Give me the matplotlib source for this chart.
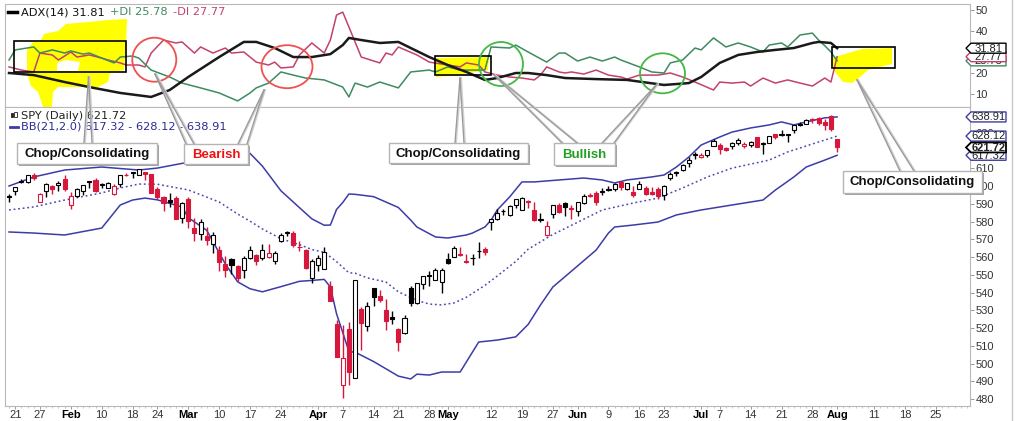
import numpy as np
import pandas as pd
import matplotlib
matplotlib.use("Agg")
import matplotlib.pyplot as plt
import matplotlib.patches as mpatches
import matplotlib.transforms as mtransforms
from matplotlib.lines import Line2D

W, H = 1016, 421
plt.rcParams['font.family'] = ['Liberation Sans', 'DejaVu Sans']

# trading calendar
holidays = ["2025-01-20", "2025-02-17", "2025-04-18", "2025-05-26", "2025-06-19",
            "2025-07-04", "2025-09-01"]
days = pd.bdate_range("2025-01-17", "2025-09-05")
days = days[~days.isin(pd.to_datetime(holidays))]

# SPY daily candles, 2025-01-17 .. 2025-08-01 (dividend adjusted)
opens = [594.30, 597.07, 602.32, 602.20, 606.21, 591.21, 597.02, 600.12, 600.36, 603.90,
         589.07, 594.23, 597.04, 602.39, 603.29, 600.43, 598.95, 595.60, 600.88, 606.34,
         607.28, 606.48, 607.94, 606.56, 598.42, 593.55, 592.33, 593.25, 582.06, 592.58,
         576.21, 573.19, 571.98, 567.50, 564.19, 556.00, 558.77, 555.09, 552.71, 559.39,
         561.40, 559.43, 559.93, 557.58, 569.10, 573.60, 573.49, 565.48, 563.83, 548.23,
         555.75, 553.35, 543.51, 522.07, 487.69, 519.54, 491.94, 530.57, 521.41, 542.45,
         538.07, 530.08, 526.04, 519.56, 517.37, 542.44, 534.36, 545.05, 549.79, 547.31,
         545.97, 558.67, 560.17, 561.26, 557.51, 559.32, 563.53, 564.79, 579.67, 581.61,
         586.01, 583.76, 589.45, 586.30, 591.29, 586.64, 580.86, 572.53, 584.42, 589.50,
         590.38, 587.13, 585.96, 590.54, 595.16, 595.83, 596.86, 598.41, 598.43, 602.34,
         598.21, 596.70, 598.51, 598.87, 596.57, 598.38, 595.04, 604.33, 607.91, 608.99,
         612.88, 617.38, 616.36, 617.24, 622.45, 623.36, 621.35, 622.77, 624.20, 622.74,
         623.16, 627.52, 623.74, 624.40, 629.30, 628.77, 629.10, 631.55, 634.60, 635.09,
         637.48, 638.35, 635.91, 639.46, 626.30]
highs = [595.50, 599.46, 604.22, 606.15, 607.18, 596.09, 601.77, 600.53, 603.00, 606.36,
         596.69, 598.70, 600.77, 602.85, 604.53, 601.90, 602.26, 600.95, 606.34, 607.39,
         607.89, 609.63, 608.08, 606.70, 599.39, 594.29, 595.98, 594.42, 591.12, 593.74,
         581.89, 581.38, 576.67, 573.99, 566.14, 560.62, 559.71, 555.71, 560.43, 566.31,
         561.62, 567.55, 567.17, 563.19, 573.45, 574.71, 574.63, 569.20, 564.57, 559.01,
         561.24, 565.72, 546.37, 524.27, 521.57, 523.38, 547.02, 531.90, 534.83, 542.68,
         541.63, 536.29, 529.57, 520.10, 527.29, 543.83, 545.26, 549.45, 551.95, 553.85,
         554.01, 562.44, 566.43, 565.48, 561.46, 561.53, 568.68, 565.83, 581.20, 587.28,
         587.17, 589.17, 592.70, 593.74, 592.25, 590.78, 584.82, 580.02, 589.51, 590.24,
         591.01, 589.33, 590.99, 595.28, 596.15, 597.20, 599.03, 599.95, 601.67, 602.65,
         601.95, 600.05, 602.65, 599.94, 599.42, 599.46, 600.54, 607.85, 608.61, 612.31,
         616.39, 619.22, 618.83, 620.49, 626.28, 624.03, 622.11, 624.72, 626.87, 624.86,
         625.16, 627.86, 624.73, 628.40, 629.47, 631.54, 629.10, 634.21, 636.15, 637.58,
         638.04, 638.67, 637.68, 639.85, 626.34]
lows = [591.00, 595.07, 601.76, 601.92, 603.20, 591.04, 593.65, 595.62, 597.12, 597.31,
        586.89, 593.68, 594.98, 599.03, 596.45, 599.14, 598.83, 594.91, 599.60, 605.47,
        604.78, 605.96, 603.20, 595.87, 592.85, 586.06, 588.26, 581.15, 578.94, 576.40,
        568.85, 569.68, 566.72, 562.23, 552.19, 548.72, 550.29, 546.38, 548.19, 558.95,
        555.66, 558.23, 559.20, 556.33, 568.50, 571.99, 565.49, 563.24, 553.06, 545.27,
        552.08, 553.21, 535.10, 503.56, 480.30, 487.66, 491.56, 507.73, 518.47, 532.26,
        534.90, 518.69, 522.31, 506.96, 516.54, 532.12, 533.63, 542.23, 543.46, 546.95,
        539.92, 556.27, 559.79, 560.61, 556.40, 555.25, 559.70, 560.96, 575.34, 581.04,
        583.74, 583.30, 587.48, 586.30, 587.80, 580.02, 579.61, 571.73, 581.75, 584.96,
        583.26, 581.44, 583.26, 590.05, 593.69, 589.25, 595.06, 597.16, 597.28, 597.72,
        597.72, 593.68, 598.42, 594.96, 594.67, 592.86, 591.89, 603.41, 605.54, 608.37,
        610.83, 615.04, 615.52, 616.61, 622.43, 617.87, 619.52, 620.91, 623.01, 621.53,
        621.80, 622.06, 618.05, 624.18, 626.46, 628.34, 624.57, 629.73, 633.99, 634.67,
        635.54, 634.34, 631.54, 630.77, 619.29]
closes = [593.98, 599.45, 602.84, 606.15, 604.37, 595.77, 600.92, 598.21, 601.44, 598.22,
          594.17, 598.18, 600.62, 602.72, 597.17, 601.25, 601.71, 599.76, 606.13, 606.10,
          607.89, 609.33, 606.78, 596.34, 593.61, 590.64, 590.94, 581.55, 590.58, 580.27,
          573.36, 579.56, 569.31, 572.42, 557.18, 552.52, 555.47, 548.12, 559.41, 563.75,
          557.62, 563.73, 562.09, 562.28, 572.38, 573.76, 566.89, 565.38, 554.06, 557.69,
          559.27, 562.82, 535.10, 503.78, 502.88, 494.98, 547.02, 522.98, 532.34, 537.52,
          536.01, 524.06, 524.81, 512.38, 525.65, 533.82, 545.09, 549.04, 549.25, 552.72,
          552.94, 556.77, 565.06, 561.81, 557.10, 559.45, 563.36, 562.64, 581.19, 585.04,
          585.79, 588.66, 592.40, 593.05, 591.05, 581.06, 581.29, 577.41, 589.35, 585.41,
          588.25, 587.59, 590.91, 594.29, 594.25, 591.25, 597.34, 597.88, 601.28, 599.56,
          601.95, 595.20, 600.88, 595.73, 595.64, 594.28, 600.15, 606.78, 607.12, 611.87,
          614.91, 617.85, 617.65, 620.45, 625.34, 620.68, 620.34, 624.06, 625.82, 623.62,
          624.81, 622.14, 624.22, 628.04, 627.58, 628.77, 628.86, 634.21, 634.42, 637.10,
          636.94, 635.26, 634.46, 632.08, 621.72]
prev_close = 588.12

# Bollinger Bands (21, 2.0) at trading-day positions
bbu_day = [0, 4, 9, 15, 21, 24, 29, 32, 34, 35, 37, 39, 41, 44, 47, 49, 51, 52, 53, 54,
           55, 56, 59, 63, 65, 66, 69, 71, 74, 75, 77, 78, 79, 81, 83, 85, 89, 93, 96, 98,
           100, 104, 106, 108, 110, 112, 115, 117, 120, 123, 125, 127, 129, 132, 134]
bbu_val = [600.0, 605.1, 609.0, 610.7, 609.0, 610.1, 613.4, 616.5, 619.7, 621.7, 622.4, 618.4,
           611.2, 597.3, 587.8, 581.5, 577.9, 578.0, 586.8, 590.7, 595.5, 595.3, 594.0, 587.9,
           580.8, 576.9, 571.3, 570.7, 572.4, 573.5, 576.9, 580.8, 586.5, 593.8, 602.3, 602.3,
           603.4, 604.5, 603.4, 601.7, 603.4, 605.1, 606.2, 610.7, 616.3, 623.1, 627.6, 630.4,
           632.7, 634.4, 636.1, 634.4, 636.1, 638.4, 638.91]
bbm_day = [0, 4, 9, 15, 18, 21, 24, 29, 34, 37, 39, 41, 44, 47, 49, 51, 53, 55, 56, 58,
           61, 63, 66, 68, 70, 72, 74, 77, 79, 82, 84, 88, 90, 96, 101, 105, 109, 113, 117,
           123, 126, 131, 133, 134]
bbm_val = [586.5, 588.2, 592.1, 596.1, 598.9, 601.1, 601.0, 597.8, 591.0, 584.2, 580.2, 575.8,
           570.3, 567.0, 564.2, 562.7, 557.4, 551.1, 550.9, 548.2, 545.9, 540.4, 535.5, 533.5,
           533.0, 534.1, 537.3, 544.0, 549.3, 557.5, 564.4, 572.7, 576.1, 586.5, 590.4, 593.2,
           598.9, 605.1, 610.1, 614.6, 619.2, 624.8, 627.0, 628.12]
bbl_day = [0, 4, 9, 15, 18, 20, 22, 24, 28, 29, 32, 34, 35, 37, 39, 41, 44, 47, 49, 51,
           52, 53, 54, 55, 56, 59, 63, 65, 66, 68, 70, 73, 76, 79, 82, 84, 86, 88, 91, 95,
           97, 98, 101, 105, 108, 112, 117, 122, 124, 127, 129, 132, 134]
bbl_val = [574.1, 573.5, 572.4, 576.3, 589.3, 592.1, 593.2, 592.2, 588.2, 582.2, 575.0, 562.4,
           556.1, 546.0, 542.1, 540.4, 543.3, 546.3, 546.8, 547.4, 543.1, 528.0, 517.5, 506.7,
           506.4, 501.1, 492.9, 491.3, 494.0, 493.5, 495.2, 495.2, 512.1, 513.2, 515.0, 522.0,
           533.0, 543.1, 552.0, 563.9, 573.5, 576.9, 578.0, 579.7, 583.7, 586.5, 589.3, 592.1,
           597.7, 605.1, 610.7, 614.6, 617.32]

# ADX(14), +DI, -DI
adx_day = [0, 4, 9, 13, 18, 23, 26, 29, 34, 38, 40, 43, 46, 49, 52, 54, 55, 57, 60, 63,
           65, 68, 71, 74, 77, 79, 82, 84, 87, 90, 95, 100, 106, 110, 112, 115, 118, 121,
           124, 127, 130, 131, 133, 134]
adx_val = [20.0, 19.0, 15.7, 13.3, 10.5, 8.6, 11.9, 18.1, 27.6, 34.8, 34.8, 31.9, 27.6, 27.6,
           29.0, 33.3, 36.7, 35.7, 34.3, 34.8, 31.9, 27.6, 23.8, 20.5, 16.7, 17.6, 20.0, 20.0,
           19.0, 17.6, 17.1, 16.7, 14.3, 15.2, 18.1, 24.8, 28.6, 30.0, 31.0, 31.9, 34.3, 34.8,
           34.3, 31.81]
pdi_day = [0, 1, 4, 5, 7, 9, 10, 12, 13, 15, 17, 18, 20, 21, 23, 26, 28, 31, 34, 37,
           39, 40, 42, 44, 46, 48, 51, 54, 55, 56, 58, 60, 63, 65, 68, 69, 71, 73, 77, 78,
           81, 82, 84, 87, 89, 90, 92, 94, 96, 98, 99, 102, 104, 106, 107, 109, 111, 112,
           114, 116, 118, 120, 122, 123, 125, 126, 128, 130, 131, 132, 133, 134]
pdi_val = [26.2, 31.0, 32.4, 29.5, 31.0, 29.5, 30.5, 29.0, 29.5, 27.1, 24.8, 27.6, 28.1, 27.1,
           21.4, 18.1, 15.2, 12.9, 10.5, 6.7, 10.5, 12.9, 15.2, 20.5, 19.0, 17.6, 16.7, 13.3,
           8.6, 15.2, 13.3, 15.7, 12.9, 20.5, 21.4, 20.5, 22.9, 21.4, 21.4, 32.4, 31.9, 33.3,
           30.0, 25.2, 29.5, 29.5, 25.7, 27.6, 25.7, 27.6, 26.2, 22.9, 20.5, 20.0, 24.8, 26.2,
           31.9, 31.0, 36.7, 32.4, 34.3, 32.4, 30.0, 33.3, 34.3, 32.4, 38.1, 39.0, 35.7, 33.0,
           30.0, 25.78]
mdi_day = [0, 2, 4, 5, 7, 8, 10, 11, 13, 15, 16, 18, 19, 21, 22, 23, 25, 27, 28, 30,
           31, 33, 35, 36, 38, 40, 42, 43, 44, 46, 47, 49, 51, 52, 53, 54, 55, 57, 60, 61,
           62, 63, 66, 68, 71, 73, 74, 76, 77, 79, 81, 83, 85, 86, 87, 89, 90, 91, 93, 95,
           97, 99, 100, 102, 103, 105, 107, 109, 111, 114, 115, 117, 119, 120, 122, 124, 126,
           128, 130, 132, 133, 134]
mdi_val = [22.9, 21.4, 20.5, 29.5, 28.6, 26.2, 30.0, 27.6, 28.6, 27.1, 26.2, 24.8, 23.8, 23.8,
           22.9, 29.5, 35.7, 34.3, 34.8, 29.5, 32.4, 29.5, 31.9, 29.5, 30.0, 25.2, 23.8, 25.2,
           22.4, 22.9, 28.6, 34.3, 29.5, 35.7, 47.6, 49.0, 41.9, 27.6, 24.8, 29.5, 28.6, 32.4,
           28.6, 25.2, 23.8, 22.9, 24.8, 23.8, 20.5, 19.0, 18.1, 17.6, 16.7, 19.0, 22.9, 20.5,
           20.0, 20.5, 19.5, 21.4, 19.0, 18.1, 17.1, 19.0, 19.0, 19.0, 20.0, 18.1, 15.7, 11.9,
           15.7, 15.2, 15.7, 13.8, 17.6, 15.2, 16.7, 15.2, 13.8, 17.6, 15.7, 27.77]

tick_dates = ["2025-01-21", "2025-01-27", "2025-02-03", "2025-02-10", "2025-02-18", "2025-02-24",
              "2025-03-03", "2025-03-10", "2025-03-17", "2025-03-24", "2025-04-01", "2025-04-07",
              "2025-04-14", "2025-04-21", "2025-04-28", "2025-05-01", "2025-05-12", "2025-05-19",
              "2025-05-27", "2025-06-02", "2025-06-09", "2025-06-16", "2025-06-23", "2025-07-01",
              "2025-07-07", "2025-07-14", "2025-07-21", "2025-07-28", "2025-08-01", "2025-08-11",
              "2025-08-18", "2025-08-25"]
tick_text = ["21", "27", "Feb", "10", "18", "24", "Mar", "10", "17", "24", "Apr", "7", "14", "21",
             "28", "May", "12", "19", "27", "Jun", "9", "16", "23", "Jul", "7", "14", "21", "28",
             "Aug", "11", "18", "25"]
adx_ticks = [10, 20, 30, 40, 50]
price_ticks = list(range(480, 640, 10))

RED = '#d8173c'
NAVY = '#3c3ca8'
GREEN_DI = '#3d8b5f'
RED_DI = '#c4416c'

fig = plt.figure(figsize=(W / 100, H / 100), dpi=100)
fig.patch.set_facecolor('white')
ax_adx = fig.add_axes([5 / W, 1 - 107 / H, 965 / W, 103 / H])
ax_px = fig.add_axes([5 / W, 1 - 405.5 / H, 965 / W, 298.5 / H])
# pixel coordinates measured from the top-left corner
pix = mtransforms.Affine2D().scale(1, -1).translate(0, H)

# ---- ADX panel
ax_adx.plot(mdi_day, mdi_val, color=RED_DI, lw=1.1, zorder=2)
ax_adx.plot(pdi_day, pdi_val, color=GREEN_DI, lw=1.1, zorder=2)
ax_adx.plot(adx_day, adx_val, color='#1a1a1a', lw=1.8, zorder=3)

yellow = [
    [(40, 42), (44, 34), (58, 31), (66, 24), (88, 22), (108, 20), (127, 19), (126, 45), (124, 70),
     (110, 73), (108, 82), (98, 87), (58, 87), (53, 92), (52, 107), (43, 107), (38, 92), (31, 86),
     (27, 74), (27, 50), (33, 42)],
    [(436, 58), (489, 57), (488, 70), (470, 73), (446, 76), (436, 77)],
    [(832, 58), (848, 53), (862, 49), (892, 48), (892, 64), (868, 70), (859, 78), (852, 83),
     (843, 82), (835, 72), (832, 64)],
]
for poly in yellow:
    ax_adx.add_patch(mpatches.Polygon(poly, closed=True, transform=pix, facecolor='#ffff00',
                                      edgecolor='none', zorder=1))
ax_adx.add_patch(mpatches.Polygon([(57, 63), (66, 60), (80, 62), (78, 71), (57, 71)], closed=True,
                                  transform=pix, facecolor='white', edgecolor='none', zorder=1.1))
for (x0, y0, x1, y1) in [(14, 40.7, 126, 71.7), (435, 55.7, 491, 75.5), (832.3, 47.3, 895, 67.7)]:
    ax_adx.add_patch(mpatches.Rectangle((x0, y0), x1 - x0, y1 - y0, transform=pix, fill=False,
                                        edgecolor='black', lw=1.2, zorder=4))
for (cx, cy, w, h, col) in [(154.3, 59.7, 44, 44, '#f05050'), (287, 66.7, 51, 43, '#f05050'),
                            (501, 64, 44, 44, '#44b844'), (662.5, 73.3, 45, 40, '#44b844')]:
    ax_adx.add_patch(mpatches.Ellipse((cx, cy), w, h, transform=pix, fill=False,
                                      edgecolor=col, lw=1.3, zorder=4))

# ---- price panel
o, hi, lo, c = map(np.array, (opens, highs, lows, closes))
idx = np.arange(len(c))
prev = np.r_[prev_close, c[:-1]]
edge = np.where(c >= prev, 'black', RED)
face = np.where(c >= o, 'white', edge)
ax_px.vlines(idx, lo, hi, colors=edge, lw=1.0, zorder=3)
ax_px.bar(idx, np.maximum(np.abs(c - o), 0.3), bottom=np.minimum(o, c), width=0.66,
          color=face, edgecolor=edge, linewidth=0.8, zorder=4)
ax_px.plot(bbu_day, bbu_val, color=NAVY, lw=1.1, zorder=2)
ax_px.plot(bbl_day, bbl_val, color=NAVY, lw=1.1, zorder=2)
ax_px.plot(bbm_day, bbm_val, color='#4a4ab4', lw=1.1, ls=(0, (1.2, 1.8)), zorder=2)

# ---- axes styling
for ax in (ax_adx, ax_px):
    for s in ax.spines.values():
        s.set_color('#b8b8b8')
        s.set_linewidth(0.8)
    ax.yaxis.tick_right()
    ax.tick_params(axis='y', which='both', length=3, width=0.7, color='#999999',
                   labelsize=8, labelcolor='#333333', pad=1)
    ax.set_xlim(-0.65, 155.5)
ax_adx.set_ylim(3.81, 52.86)
ax_adx.set_yticks(adx_ticks)
# the 30 label sits under the value tags
ax_adx.set_yticklabels([str(t) if t != 30 else "" for t in adx_ticks])
ax_adx.tick_params(axis='x', bottom=False, labelbottom=False)
ax_px.set_ylim(476.34, 644.51)
ax_px.set_yticks(price_ticks)
ax_px.set_yticklabels([str(t) if t != 620 else "" for t in price_ticks])

tick_idx = [days.get_loc(pd.Timestamp(d)) for d in tick_dates]
ax_px.set_xticks(tick_idx)
ax_px.set_xticklabels(tick_text)
ax_px.set_xticks(np.arange(0, 156), minor=True)
ax_px.tick_params(axis='x', which='major', length=2.5, width=0.7, color='#999999',
                  labelsize=8, labelcolor='#333333', pad=0.8)
ax_px.tick_params(axis='x', which='minor', length=1.5, width=0.6, color='#bbbbbb')
for lbl, t in zip(ax_px.get_xticklabels(), tick_text):
    if t.isalpha():
        lbl.set_fontweight('bold')
        lbl.set_color('black')

# ---- legends
fig.add_artist(Line2D([8, 17], [12.3, 12.3], transform=pix, color='black', lw=2.5, zorder=9))
fig.text(21, 12.3, "ADX(14) 31.81", transform=pix, va='center', family='DejaVu Sans',
         fontsize=8.2, color='#111111', zorder=9)
fig.text(110, 12.3, "+DI 25.78", transform=pix, va='center', family='DejaVu Sans',
         fontsize=8.2, color=GREEN_DI, zorder=9)
fig.text(173, 12.3, "-DI 27.77", transform=pix, va='center', family='DejaVu Sans',
         fontsize=8.2, color=RED_DI, zorder=9)
fig.add_artist(mpatches.Rectangle((10.5, 112.5), 2.2, 4.5, transform=pix, facecolor='#222222',
                                  edgecolor='#222222', lw=0.6, zorder=9))
fig.add_artist(mpatches.Rectangle((14.3, 111.5), 2.2, 5.5, transform=pix, facecolor='white',
                                  edgecolor='#222222', lw=0.6, zorder=9))
fig.text(21, 115.7, "SPY (Daily) 621.72", transform=pix, va='center', family='DejaVu Sans',
         fontsize=8.2, color='#222222', zorder=9)
fig.add_artist(Line2D([10, 18], [126.6, 126.6], transform=pix, color=NAVY, lw=2, zorder=9))
fig.text(21, 126.7, "BB(21,2.0) 617.32 - 628.12 - 638.91", transform=pix, va='center',
         family='DejaVu Sans', fontsize=8.2, color='#2b2b96', zorder=9)

# ---- last value tags on the right axis
def tag(ax, value, label, edgecol, z, bold=False):
    yd = H - ax.transData.transform((0, value))[1]
    pts = [(966, yd), (971, yd - 5), (1006, yd - 5), (1006, yd + 5), (971, yd + 5)]
    fig.add_artist(mpatches.Polygon(pts, closed=True, transform=pix, facecolor='white',
                                    edgecolor=edgecol, lw=1.3 if bold else 1.0, zorder=z))
    fig.text(988.5, yd + 0.3, label, transform=pix, ha='center', va='center', fontsize=8,
             fontweight='bold' if bold else 'normal', color='#222222', zorder=z + 0.5)

tag(ax_adx, 25.78, "25.78", GREEN_DI, 20)
tag(ax_adx, 27.77, "27.77", RED_DI, 21)
tag(ax_adx, 31.81, "31.81", 'black', 22)
tag(ax_px, 638.91, "638.91", NAVY, 20)
tag(ax_px, 628.12, "628.12", NAVY, 21)
tag(ax_px, 617.32, "617.32", NAVY, 22)
tag(ax_px, 621.72, "621.72", 'black', 23, bold=True)

# ---- callouts
def callout(box, label, color, pointers):
    x0, y0, x1, y1 = box
    for bx0, bx1, tx, ty in pointers:
        for bx in (bx0, bx1):
            fig.add_artist(Line2D([bx + 1.3, tx + 1.3], [y0, ty], transform=pix,
                                  color='#d2d2d2', lw=1.0, zorder=10))
            fig.add_artist(Line2D([bx, tx], [y0, ty], transform=pix,
                                  color='#9a9a9a', lw=1.0, zorder=10.2))
    fig.add_artist(mpatches.Rectangle((x0 + 2, y0 + 2), x1 - x0, y1 - y0, transform=pix,
                                      facecolor='#a0a0a0', edgecolor='none', zorder=10.5))
    fig.add_artist(mpatches.Rectangle((x0, y0), x1 - x0, y1 - y0, transform=pix,
                                      facecolor='white', edgecolor='#b5b5b5', lw=1.0, zorder=11))
    fig.text((x0 + x1) / 2, (y0 + y1) / 2 + 0.5, label, transform=pix, ha='center', va='center',
             fontsize=9.5, fontweight='bold', color=color, zorder=11.5)

callout((16.7, 142.7, 156.7, 164), "Chop/Consolidating", '#111111', [(84, 92, 88.5, 77)])
callout((184, 144, 248, 164), "Bearish", '#ee1111', [(186, 194, 155, 74), (238, 247, 264, 90)])
callout((389, 143, 528, 163), "Chop/Consolidating", '#111111', [(455, 464, 460, 78)])
callout((554, 143, 615, 165), "Bullish", '#22a022', [(562, 577, 494, 75), (602, 614, 657, 84)])
callout((843, 171, 982, 193), "Chop/Consolidating", '#111111', [(900, 914, 857, 80)])

fig.add_artist(Line2D([1012, 1012], [0, H], transform=pix, color='#c8c8c8', lw=1.0, zorder=9))

fig.savefig("out.png", dpi=100, facecolor='white')
